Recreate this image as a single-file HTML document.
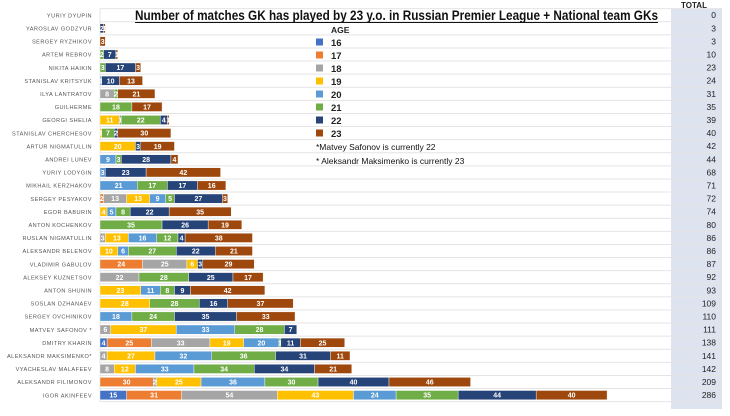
<!DOCTYPE html>
<html><head><meta charset="utf-8">
<style>
body{margin:0;background:#fff;width:730px;height:411px;overflow:hidden}
svg{font-family:"Liberation Sans",sans-serif}
</style></head>
<body>
<svg id="c" width="730" height="411"></svg>
<script>
const players=["YURIY DYUPIN","YAROSLAV GODZYUR","SERGEY RYZHIKOV","ARTEM REBROV","NIKITA HAIKIN","STANISLAV KRITSYUK","ILYA LANTRATOV","GUILHERME","GEORGI SHELIA","STANISLAV CHERCHESOV","ARTUR NIGMATULLIN","ANDREI LUNEV","YURIY LODYGIN","MIKHAIL KERZHAKOV","SERGEY PESYAKOV","EGOR BABURIN","ANTON KOCHENKOV","RUSLAN NIGMATULLIN","ALEKSANDR BELENOV","VLADIMIR GABULOV","ALEKSEY KUZNETSOV","ANTON SHUNIN","SOSLAN DZHANAEV","SERGEY OVCHINIKOV","MATVEY SAFONOV *","DMITRY KHARIN","ALEKSANDR MAKSIMENKO*","VYACHESLAV MALAFEEV","ALEKSANDR FILIMONOV","IGOR AKINFEEV"];
const ages=["16","17","18","19","20","21","22","23"];
const age16=[0,0,0,0,0,0,0,0,0,0,0,0,0,0,0,0,0,0,0,0,0,0,0,0,0,4,0,0,0,15];
const age17=[0,0,0,0,0,0,0,0,0,0,0,0,0,0,2,0,0,0,0,24,0,0,0,0,0,25,0,0,30,31];
const age18=[0,0,0,0,0,0,8,0,0,0,0,0,0,0,13,0,0,3,0,25,22,0,0,0,6,33,4,8,2,54];
const age19=[0,0,0,0,0,0,0,0,11,1,20,0,0,0,13,4,0,13,10,6,0,23,28,0,37,19,27,12,25,43];
const age20=[0,0,0,0,0,1,0,0,1,0,0,9,3,21,9,5,0,16,6,0,0,11,0,18,33,20,32,33,36,24];
const age21=[0,0,0,2,3,0,2,18,22,7,0,3,0,17,5,8,35,12,27,0,28,8,28,24,28,1,36,34,30,35];
const age22=[0,2,0,7,17,10,0,0,4,2,3,28,23,17,27,22,26,4,22,3,25,9,16,35,7,11,31,34,40,44];
const age23=[0,1,3,1,3,13,21,17,1,30,19,4,42,16,3,35,19,38,21,29,17,42,37,33,0,25,11,21,46,40];
const series=[age16,age17,age18,age19,age20,age21,age22,age23];
const colors=["#4472c4","#ed7d31","#a5a5a5","#ffc000","#5b9bd5","#70ad47","#264478","#9e480e"];
const NS="http://www.w3.org/2000/svg";
const svg=document.getElementById('c');
function mk(t,a,txt){const e=document.createElementNS(NS,t);for(const k in a)e.setAttribute(k,a[k]);if(txt!==undefined)e.textContent=txt;svg.appendChild(e);return e;}
const x0=100,k=1.773;
const xs=v=>x0+v*k;
const ys=i=>15.2+i*13.1;
const tc=mk('rect',{x:671,y:9,width:51,height:400,fill:'#dde3ef'});


const th=mk('text',{x:694,y:8,'font-size':8,'font-weight':'bold','text-anchor':'middle',fill:'#222'},'TOTAL');


for(let i=0;i<=players.length;i++){
  const g=mk('line',{x1:x0,x2:722,y1:ys(i)-6.55,y2:ys(i)-6.55,stroke:'#e4e4e4','stroke-width':1});
  
  
}
mk('line',{x1:x0,x2:x0,y1:ys(0)-6.5,y2:ys(players.length)-6.5,stroke:'#e4e4e4'});
players.forEach((p,i)=>{
  const y=ys(i);
  const l=mk('text',{x:92,y:y+2.2,'font-size':5.6,'letter-spacing':'0.45','text-anchor':'end',fill:'#555'},p);
  
  
  let acc=0;
  series.forEach((s,j)=>{
    const v=s[i];if(!v)return;
    const r=mk('rect',{x:xs(acc),y:y-4.6,width:v*k,height:9.2,fill:colors[j],stroke:'#fff','stroke-width':0.4});
    
    
    const t=mk('text',{x:xs(acc+v/2),y:y+2.6,'font-size':7,'font-weight':'bold','text-anchor':'middle',fill:'#fff'},v);
    
    
    acc+=v;
  });
  const tt=mk('text',{x:716,y:y+3,'font-size':8.5,'text-anchor':'end',fill:'#222'},acc);
  
  
});
const ti=mk('text',{x:135,y:20,'font-size':13.5,'font-weight':'bold',fill:'#111',textLength:523,lengthAdjust:'spacingAndGlyphs'},'Number of matches GK has played by 23 y.o. in Russian Premier League + National team GKs');


mk('line',{x1:135,x2:658,y1:22.5,y2:22.5,stroke:'#111','stroke-width':1});
const at=mk('text',{x:331,y:33,'font-size':8.5,'font-weight':'bold',fill:'#222'},'AGE');


ages.forEach((a,j)=>{
  const y=42.5+j*13;
  const sq=mk('rect',{x:316,y:y-4,width:7,height:7,fill:colors[j]});
  
  
  const lt=mk('text',{x:331,y:y+3.5,'font-size':9.5,'font-weight':'bold',fill:'#222'},a);
  
  
});
const n1=mk('text',{x:316,y:150,'font-size':8.5,fill:'#111'},'*Matvey Safonov is currently 22');


const n2=mk('text',{x:316,y:164,'font-size':8.5,fill:'#111'},'* Aleksandr Maksimenko is currently 23');


</script>
</body></html>
